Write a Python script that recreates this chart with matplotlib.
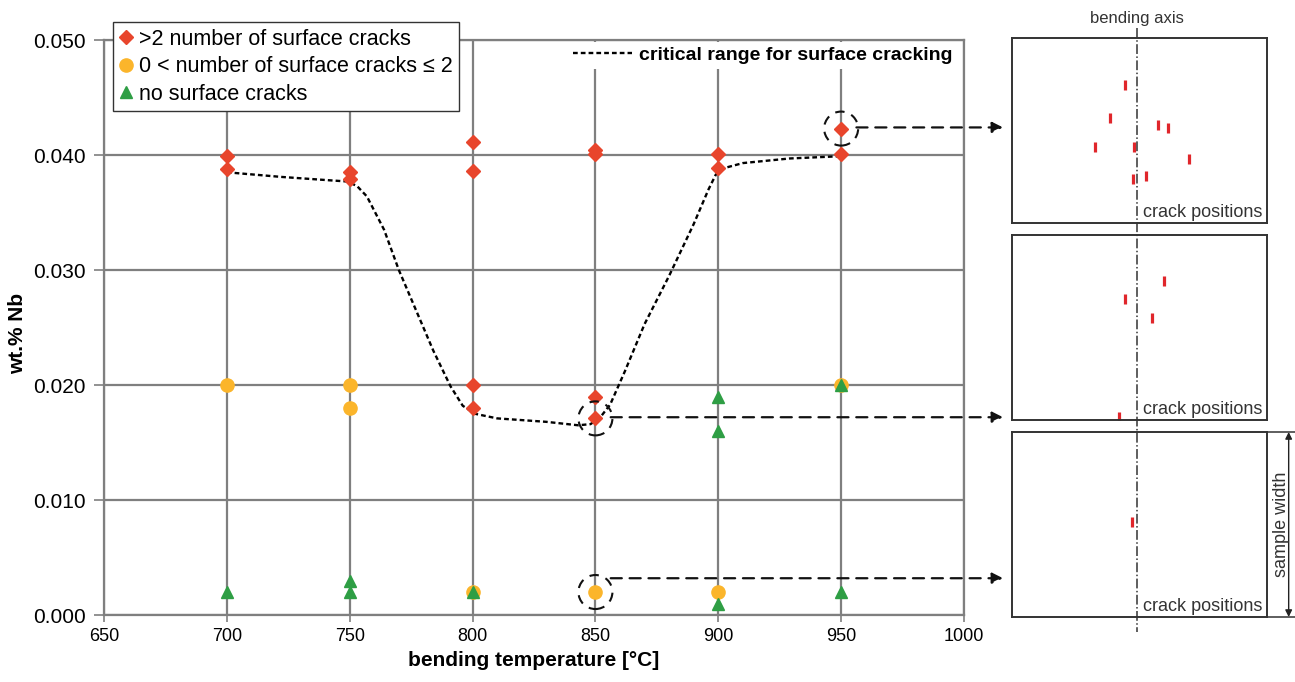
import numpy as np
import matplotlib
matplotlib.use("Agg")
import matplotlib.pyplot as plt
from matplotlib.lines import Line2D
from matplotlib.patches import Circle
from matplotlib.transforms import ScaledTranslation

plt.rcParams['font.family'] = ['Liberation Sans', 'DejaVu Sans']

# ---- data ----
# >2 number of surface cracks
red_T = [700, 700, 750, 750, 800, 800, 800, 800, 850, 850, 850, 850, 900, 900, 950, 950]
red_nb = [0.0399, 0.0388, 0.0385, 0.0379, 0.0411, 0.0386, 0.0200, 0.0180,
          0.0404, 0.0401, 0.0190, 0.0171, 0.0401, 0.0389, 0.0423, 0.0401]
# 0 < number of surface cracks <= 2
yel_T = [700, 750, 750, 800, 850, 900, 950]
yel_nb = [0.0200, 0.0200, 0.0180, 0.0020, 0.0020, 0.0020, 0.0200]
# no surface cracks
grn_T = [700, 750, 750, 800, 900, 900, 900, 950, 950]
grn_nb = [0.0020, 0.0030, 0.0020, 0.0020, 0.0190, 0.0160, 0.0010, 0.0200, 0.0020]

# critical range curve (traced)
crit_T = [700, 722, 742, 749, 753, 757, 764, 770, 777, 784, 791, 796, 801, 810, 830, 843,
          848, 852, 856, 862, 870, 880, 890, 896, 899, 903, 910, 929, 950]
crit_nb = [0.0385, 0.0381, 0.0378, 0.0377, 0.0373, 0.0364, 0.0335, 0.0300, 0.0265, 0.0230,
           0.0199, 0.0182, 0.0175, 0.0171, 0.0168, 0.0165, 0.0166, 0.0172, 0.0183, 0.0212,
           0.0253, 0.0295, 0.0340, 0.0370, 0.0383, 0.0389, 0.0393, 0.0397, 0.0399]

# highlighted samples (temperature, Nb, arrow height)
hl_T = [950, 850, 850]
hl_nb = [0.0423, 0.0171, 0.0020]
hl_arrow_nb = [0.0424, 0.0172, 0.0032]

# crack positions inside each sample sketch (fraction of box)
cracks = [
    [(0.443, 0.746), (0.384, 0.566), (0.325, 0.412), (0.480, 0.412), (0.574, 0.530),
     (0.611, 0.512), (0.694, 0.346), (0.476, 0.236), (0.524, 0.256)],
    [(0.596, 0.753), (0.443, 0.652), (0.550, 0.550), (0.420, 0.018)],
    [(0.472, 0.515)],
]

c_red = '#e8452c'
c_yel = '#fbb52b'
c_grn = '#2e9e44'
c_grid = '#7f7f7f'

fig = plt.figure(figsize=(12.95, 6.82), dpi=100)
ax = fig.add_axes([0.0803, 0.0982, 0.6641, 0.8431])

ax.plot(red_T, red_nb, 'D', color=c_red, ms=7, ls='none', label='>2 number of surface cracks', zorder=4)
ax.plot(yel_T, yel_nb, 'o', color=c_yel, ms=9.5, ls='none', label='0 < number of surface cracks ≤ 2', zorder=4)
ax.plot(grn_T, grn_nb, '^', color=c_grn, ms=8.5, ls='none', label='no surface cracks', zorder=4)
crit_line, = ax.plot(crit_T, crit_nb, color='black', lw=1.7, ls=(0, (2.0, 1.3)), zorder=3)

ax.set_xlim(650, 1000)
ax.set_ylim(0, 0.05)
ax.set_xticks(np.arange(650, 1001, 50))
ax.set_yticks(np.arange(0, 0.0501, 0.01))
ax.yaxis.set_major_formatter(matplotlib.ticker.FormatStrFormatter('%.3f'))
ax.grid(True, color=c_grid, lw=1.6)
ax.set_axisbelow(True)
for s in ax.spines.values():
    s.set_color(c_grid)
    s.set_linewidth(1.6)
    s.set_zorder(12)
ax.tick_params(axis='y', direction='out', length=7, width=1.2, color=c_grid, labelsize=15, pad=6)
ax.tick_params(axis='x', direction='out', length=5, width=1.2, color=c_grid, labelsize=13, pad=4)
ax.set_xlabel('bending temperature [°C]', fontsize=15, fontweight='bold', labelpad=5)
ax.set_ylabel('wt.% Nb', fontsize=15, fontweight='bold')
ax.yaxis.set_label_coords(-0.09, 0.49)

leg1 = ax.legend(loc='upper left', bbox_to_anchor=(0.0105, 1.031), fontsize=15.5,
                 handlelength=0.6, handletextpad=0.3, labelspacing=0.3, borderpad=0.3,
                 borderaxespad=0, fancybox=False, framealpha=1, edgecolor='#333333')
leg1.get_frame().set_linewidth(1.0)
leg1.set_zorder(13)
ax.add_artist(leg1)
leg2 = ax.legend([crit_line], ['critical range for surface cracking'], loc='upper left',
                 bbox_to_anchor=(0.54, 0.997), handlelength=3.0, handletextpad=0.4,
                 borderpad=0.25, borderaxespad=0, frameon=True, framealpha=1,
                 edgecolor='none', prop={'weight': 'bold', 'size': 14})
leg2.set_zorder(10)

# side sketches
panel_bottoms = [1 - 223 / 682, 1 - 420 / 682, 1 - 617 / 682]
panels = []
for i, b in enumerate(panel_bottoms):
    p = fig.add_axes([1012 / 1295, b, 255 / 1295, 185 / 682])
    p.set_xlim(0, 1)
    p.set_ylim(0, 1)
    p.set_xticks([])
    p.set_yticks([])
    for s in p.spines.values():
        s.set_color('#333333')
        s.set_linewidth(1.4)
    cx = [c[0] for c in cracks[i]]
    cy = [c[1] for c in cracks[i]]
    p.plot(cx, cy, '|', color='#e0262b', ms=7, mew=2.3, ls='none')
    p.text(0.515, 0.055, 'crack positions', fontsize=13, color='#333333', ha='left', va='center')
    panels.append(p)

axis_x = 1137 / 1295
fig.add_artist(Line2D([axis_x, axis_x], [1 - 28 / 682, 1 - 632 / 682], transform=fig.transFigure,
                      color='#333333', lw=1.1, ls='dashdot', zorder=20))
fig.text(axis_x, 1 - 18 / 682, 'bending axis', fontsize=12, color='#333333', ha='center', va='center')

# sample width dimension
p3 = panels[2]
p3.annotate('', xy=(1.085, 0.0), xytext=(1.085, 1.0), xycoords='axes fraction',
            arrowprops=dict(arrowstyle='<|-|>', color='#222222', lw=1.0, mutation_scale=10,
                            shrinkA=0, shrinkB=0))
for yy in [0.0, 1.0]:
    p3.plot([1.0, 1.11], [yy, yy], color='#333333', lw=1.1, clip_on=False)
p3.text(1.055, 0.5, 'sample width', rotation=90, fontsize=13, color='#333333', ha='center', va='center',
        transform=p3.transAxes)

# dashed circles and arrows to the sketches
for T, nb, anb, p in zip(hl_T, hl_nb, hl_arrow_nb, panels):
    tr = fig.dpi_scale_trans + ScaledTranslation(T, nb, ax.transData)
    circ = Circle((0, 0), 0.17, transform=tr, fill=False, ec='#111111', lw=1.5,
                  ls=(0, (4.5, 3.5)), clip_on=False, zorder=6)
    fig.add_artist(circ)
    ax.annotate('', xy=(-0.035, anb), xycoords=(p.transAxes, ax.transData),
                xytext=(T, anb), textcoords='data',
                arrowprops=dict(arrowstyle='-|>', color='#111111', lw=1.6, ls=(0, (5, 3.5)),
                                mutation_scale=16, shrinkA=11, shrinkB=0),
                annotation_clip=False, zorder=6)

fig.savefig('out.png', dpi=100)
